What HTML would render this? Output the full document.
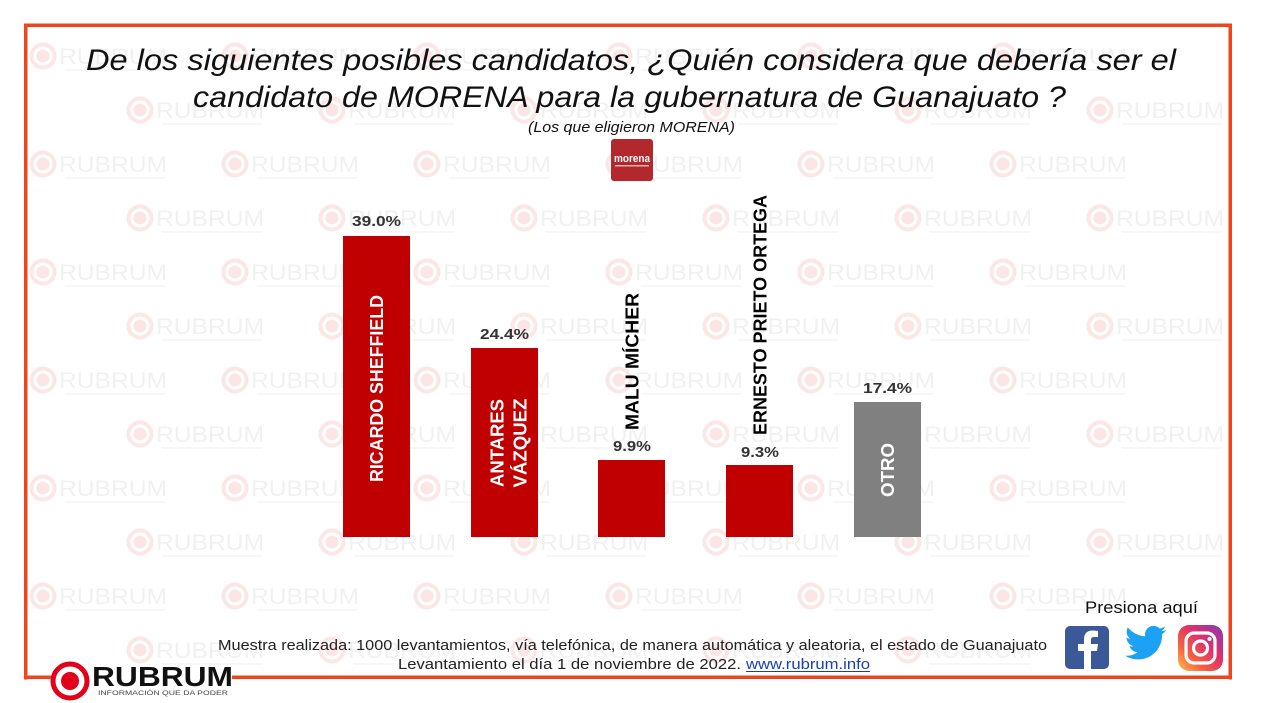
<!DOCTYPE html>
<html><head><meta charset="utf-8"><style>
html,body{margin:0;padding:0;background:#fff;}
svg{display:block;}
</style></head><body>
<svg width="1263" height="703" viewBox="0 0 1263 703" xmlns="http://www.w3.org/2000/svg">
<defs>
<g id="wm">
<circle cx="0" cy="0" r="11.5" fill="none" stroke="#fce7e7" stroke-width="4"/>
<circle cx="0" cy="0" r="6.5" fill="#fbe5e5"/>
<text x="16" y="8" font-family="Liberation Sans, sans-serif" font-size="22" fill="#f1f1f1" textLength="108" lengthAdjust="spacingAndGlyphs">RUBRUM</text>
<rect x="22" y="13" width="100" height="2" fill="#f7f7f7"/>
</g>
<linearGradient id="ig" x1="0" y1="1" x2="1" y2="0">
<stop offset="0" stop-color="#fdc14f"/>
<stop offset="0.3" stop-color="#f56040"/>
<stop offset="0.6" stop-color="#e1306c"/>
<stop offset="1" stop-color="#833ab4"/>
</linearGradient>
</defs>
<rect width="1263" height="703" fill="#fff"/>

<!-- watermarks -->
<g>
<use href="#wm" x="43" y="56"/><use href="#wm" x="235" y="56"/><use href="#wm" x="427" y="56"/><use href="#wm" x="619" y="56"/><use href="#wm" x="811" y="56"/><use href="#wm" x="1003" y="56"/>
<use href="#wm" x="140" y="110"/><use href="#wm" x="332" y="110"/><use href="#wm" x="524" y="110"/><use href="#wm" x="716" y="110"/><use href="#wm" x="908" y="110"/><use href="#wm" x="1100" y="110"/>
<use href="#wm" x="43" y="164"/><use href="#wm" x="235" y="164"/><use href="#wm" x="427" y="164"/><use href="#wm" x="619" y="164"/><use href="#wm" x="811" y="164"/><use href="#wm" x="1003" y="164"/>
<use href="#wm" x="140" y="218"/><use href="#wm" x="332" y="218"/><use href="#wm" x="524" y="218"/><use href="#wm" x="716" y="218"/><use href="#wm" x="908" y="218"/><use href="#wm" x="1100" y="218"/>
<use href="#wm" x="43" y="272"/><use href="#wm" x="235" y="272"/><use href="#wm" x="427" y="272"/><use href="#wm" x="619" y="272"/><use href="#wm" x="811" y="272"/><use href="#wm" x="1003" y="272"/>
<use href="#wm" x="140" y="326"/><use href="#wm" x="332" y="326"/><use href="#wm" x="524" y="326"/><use href="#wm" x="716" y="326"/><use href="#wm" x="908" y="326"/><use href="#wm" x="1100" y="326"/>
<use href="#wm" x="43" y="380"/><use href="#wm" x="235" y="380"/><use href="#wm" x="427" y="380"/><use href="#wm" x="619" y="380"/><use href="#wm" x="811" y="380"/><use href="#wm" x="1003" y="380"/>
<use href="#wm" x="140" y="434"/><use href="#wm" x="332" y="434"/><use href="#wm" x="524" y="434"/><use href="#wm" x="716" y="434"/><use href="#wm" x="908" y="434"/><use href="#wm" x="1100" y="434"/>
<use href="#wm" x="43" y="488"/><use href="#wm" x="235" y="488"/><use href="#wm" x="427" y="488"/><use href="#wm" x="619" y="488"/><use href="#wm" x="811" y="488"/><use href="#wm" x="1003" y="488"/>
<use href="#wm" x="140" y="542"/><use href="#wm" x="332" y="542"/><use href="#wm" x="524" y="542"/><use href="#wm" x="716" y="542"/><use href="#wm" x="908" y="542"/><use href="#wm" x="1100" y="542"/>
<use href="#wm" x="43" y="596"/><use href="#wm" x="235" y="596"/><use href="#wm" x="427" y="596"/><use href="#wm" x="619" y="596"/><use href="#wm" x="811" y="596"/><use href="#wm" x="1003" y="596"/>
<use href="#wm" x="140" y="650"/><use href="#wm" x="332" y="650"/><use href="#wm" x="524" y="650"/><use href="#wm" x="716" y="650"/><use href="#wm" x="908" y="650"/>
</g>

<!-- border -->
<g fill="#f2441c">
<rect x="24" y="23.5" width="1208" height="3.5"/>
<rect x="24" y="23.5" width="3.5" height="656"/>
<rect x="1228.5" y="23.5" width="3.5" height="656"/>
<rect x="24" y="675.5" width="28" height="3.5"/>
<rect x="232" y="675.5" width="1000" height="3.5"/>
</g>

<!-- title -->
<g font-family="Liberation Sans, sans-serif" font-style="italic" fill="#111">
<text x="86" y="70" font-size="30" textLength="1090" lengthAdjust="spacingAndGlyphs">De los siguientes posibles candidatos, ¿Quién considera que debería ser  el</text>
<text x="193" y="107" font-size="30" textLength="873" lengthAdjust="spacingAndGlyphs">candidato de MORENA para la gubernatura de Guanajuato ?</text>
<text x="528" y="132" font-size="15" textLength="207" lengthAdjust="spacingAndGlyphs">(Los que eligieron MORENA)</text>
</g>

<!-- morena logo -->
<rect x="611" y="139" width="42" height="42" rx="3" fill="#b3282d"/>
<text x="632" y="162" text-anchor="middle" font-family="Liberation Sans, sans-serif" font-weight="bold" font-size="11" fill="#fff" textLength="36" lengthAdjust="spacingAndGlyphs">morena</text>
<rect x="615" y="165" width="34" height="1.5" fill="#e9b3b3"/>

<!-- bars -->
<rect x="343" y="236" width="67" height="301" fill="#c00000"/>
<rect x="471" y="348" width="67" height="189" fill="#c00000"/>
<rect x="598" y="460" width="67" height="77" fill="#c00000"/>
<rect x="726" y="465" width="67" height="72" fill="#c00000"/>
<rect x="854" y="402" width="67" height="135" fill="#808080"/>

<!-- value labels -->
<g font-family="Liberation Sans, sans-serif" font-weight="bold" font-size="15" fill="#333" text-anchor="middle">
<text x="376.5" y="226" textLength="49" lengthAdjust="spacingAndGlyphs">39.0%</text>
<text x="504.5" y="339" textLength="49" lengthAdjust="spacingAndGlyphs">24.4%</text>
<text x="632" y="451" textLength="38" lengthAdjust="spacingAndGlyphs">9.9%</text>
<text x="760" y="457" textLength="38" lengthAdjust="spacingAndGlyphs">9.3%</text>
<text x="887.5" y="393" textLength="49" lengthAdjust="spacingAndGlyphs">17.4%</text>
</g>

<!-- rotated names -->
<g font-family="Liberation Sans, sans-serif" font-weight="bold" font-size="18" text-anchor="middle">
<text transform="translate(383,388.5) rotate(-90)" fill="#fff" textLength="187" lengthAdjust="spacingAndGlyphs">RICARDO SHEFFIELD</text>
<text transform="translate(503.5,443) rotate(-90)" fill="#fff" textLength="88" lengthAdjust="spacingAndGlyphs">ANTARES</text>
<text transform="translate(526.5,443) rotate(-90)" fill="#fff" textLength="89" lengthAdjust="spacingAndGlyphs">VÁZQUEZ</text>
<text transform="translate(638.5,361.5) rotate(-90)" fill="#000" textLength="137" lengthAdjust="spacingAndGlyphs">MALU  MÍCHER</text>
<text transform="translate(766.5,315) rotate(-90)" fill="#000" textLength="240" lengthAdjust="spacingAndGlyphs">ERNESTO PRIETO ORTEGA</text>
<text transform="translate(894,470) rotate(-90)" fill="#fff" textLength="54" lengthAdjust="spacingAndGlyphs">OTRO</text>
</g>

<!-- footer -->
<g font-family="Liberation Sans, sans-serif" font-size="15" fill="#222">
<text x="218" y="650" textLength="829" lengthAdjust="spacingAndGlyphs">Muestra realizada: 1000 levantamientos, vía telefónica, de manera automática y aleatoria, el estado de Guanajuato</text>
<text x="398" y="669" textLength="343" lengthAdjust="spacingAndGlyphs">Levantamiento el día 1 de noviembre de 2022.</text>
<text x="746" y="669" fill="#1a3fb5" textLength="124" lengthAdjust="spacingAndGlyphs">www.rubrum.info</text>
<rect x="746" y="671" width="124" height="1" fill="#1a3fb5"/>
</g>

<!-- rubrum logo -->
<circle cx="70" cy="681" r="19.5" fill="#fff"/>
<circle cx="70" cy="681" r="17" fill="none" stroke="#e3001b" stroke-width="5"/>
<circle cx="70" cy="681" r="9" fill="#e3001b"/>
<text x="92" y="686" font-family="Liberation Sans, sans-serif" font-weight="bold" font-size="28" fill="#111" textLength="141" lengthAdjust="spacingAndGlyphs">RUBRUM</text>
<text x="98" y="695" font-family="Liberation Sans, sans-serif" font-size="6.5" fill="#444" textLength="130" lengthAdjust="spacingAndGlyphs">INFORMACIÓN QUE DA PODER</text>

<!-- social -->
<text x="1085" y="613" font-family="Liberation Sans, sans-serif" font-size="17" fill="#111" textLength="113" lengthAdjust="spacingAndGlyphs">Presiona aquí</text>
<rect x="1065" y="626" width="44" height="43" rx="5" fill="#3b5998"/>
<path d="M1091 669 V651 H1097 L1098 644 H1091 V640 C1091 638 1092 637 1094 637 H1098 V631 C1097 631 1095 630.5 1092.5 630.5 C1087.5 630.5 1084 633.5 1084 639 V644 H1078 V651 H1084 V669 Z" fill="#fff"/>
<path transform="translate(1125,622) scale(1.72)" fill="#1da1f2" d="M23.954 4.569c-.885.389-1.83.654-2.825.775 1.014-.611 1.794-1.574 2.163-2.723-.951.555-2.005.959-3.127 1.184-.896-.959-2.173-1.559-3.591-1.559-2.717 0-4.920 2.203-4.920 4.917 0 .39.045.765.127 1.124C7.691 8.094 4.066 6.130 1.640 3.161c-.427.722-.666 1.561-.666 2.475 0 1.710.870 3.213 2.188 4.096-.807-.026-1.566-.248-2.228-.616v.061c0 2.385 1.693 4.374 3.946 4.827-.413.111-.849.171-1.296.171-.314 0-.615-.03-.916-.086.631 1.953 2.445 3.377 4.604 3.417-1.680 1.319-3.809 2.105-6.102 2.105-.39 0-.779-.023-1.170-.067 2.189 1.394 4.768 2.209 7.557 2.209 9.054 0 13.999-7.496 13.999-13.986 0-.209 0-.42-.015-.63.961-.689 1.800-1.560 2.460-2.548l-.047-.02z"/>
<rect x="1178" y="625" width="45" height="46" rx="11" fill="url(#ig)"/>
<rect x="1186" y="633" width="29" height="30" rx="8" fill="none" stroke="#fff" stroke-width="3.2"/>
<circle cx="1200.5" cy="648" r="7" fill="none" stroke="#fff" stroke-width="3.2"/>
<circle cx="1209.5" cy="639" r="2" fill="#fff"/>
</svg>
</body></html>
